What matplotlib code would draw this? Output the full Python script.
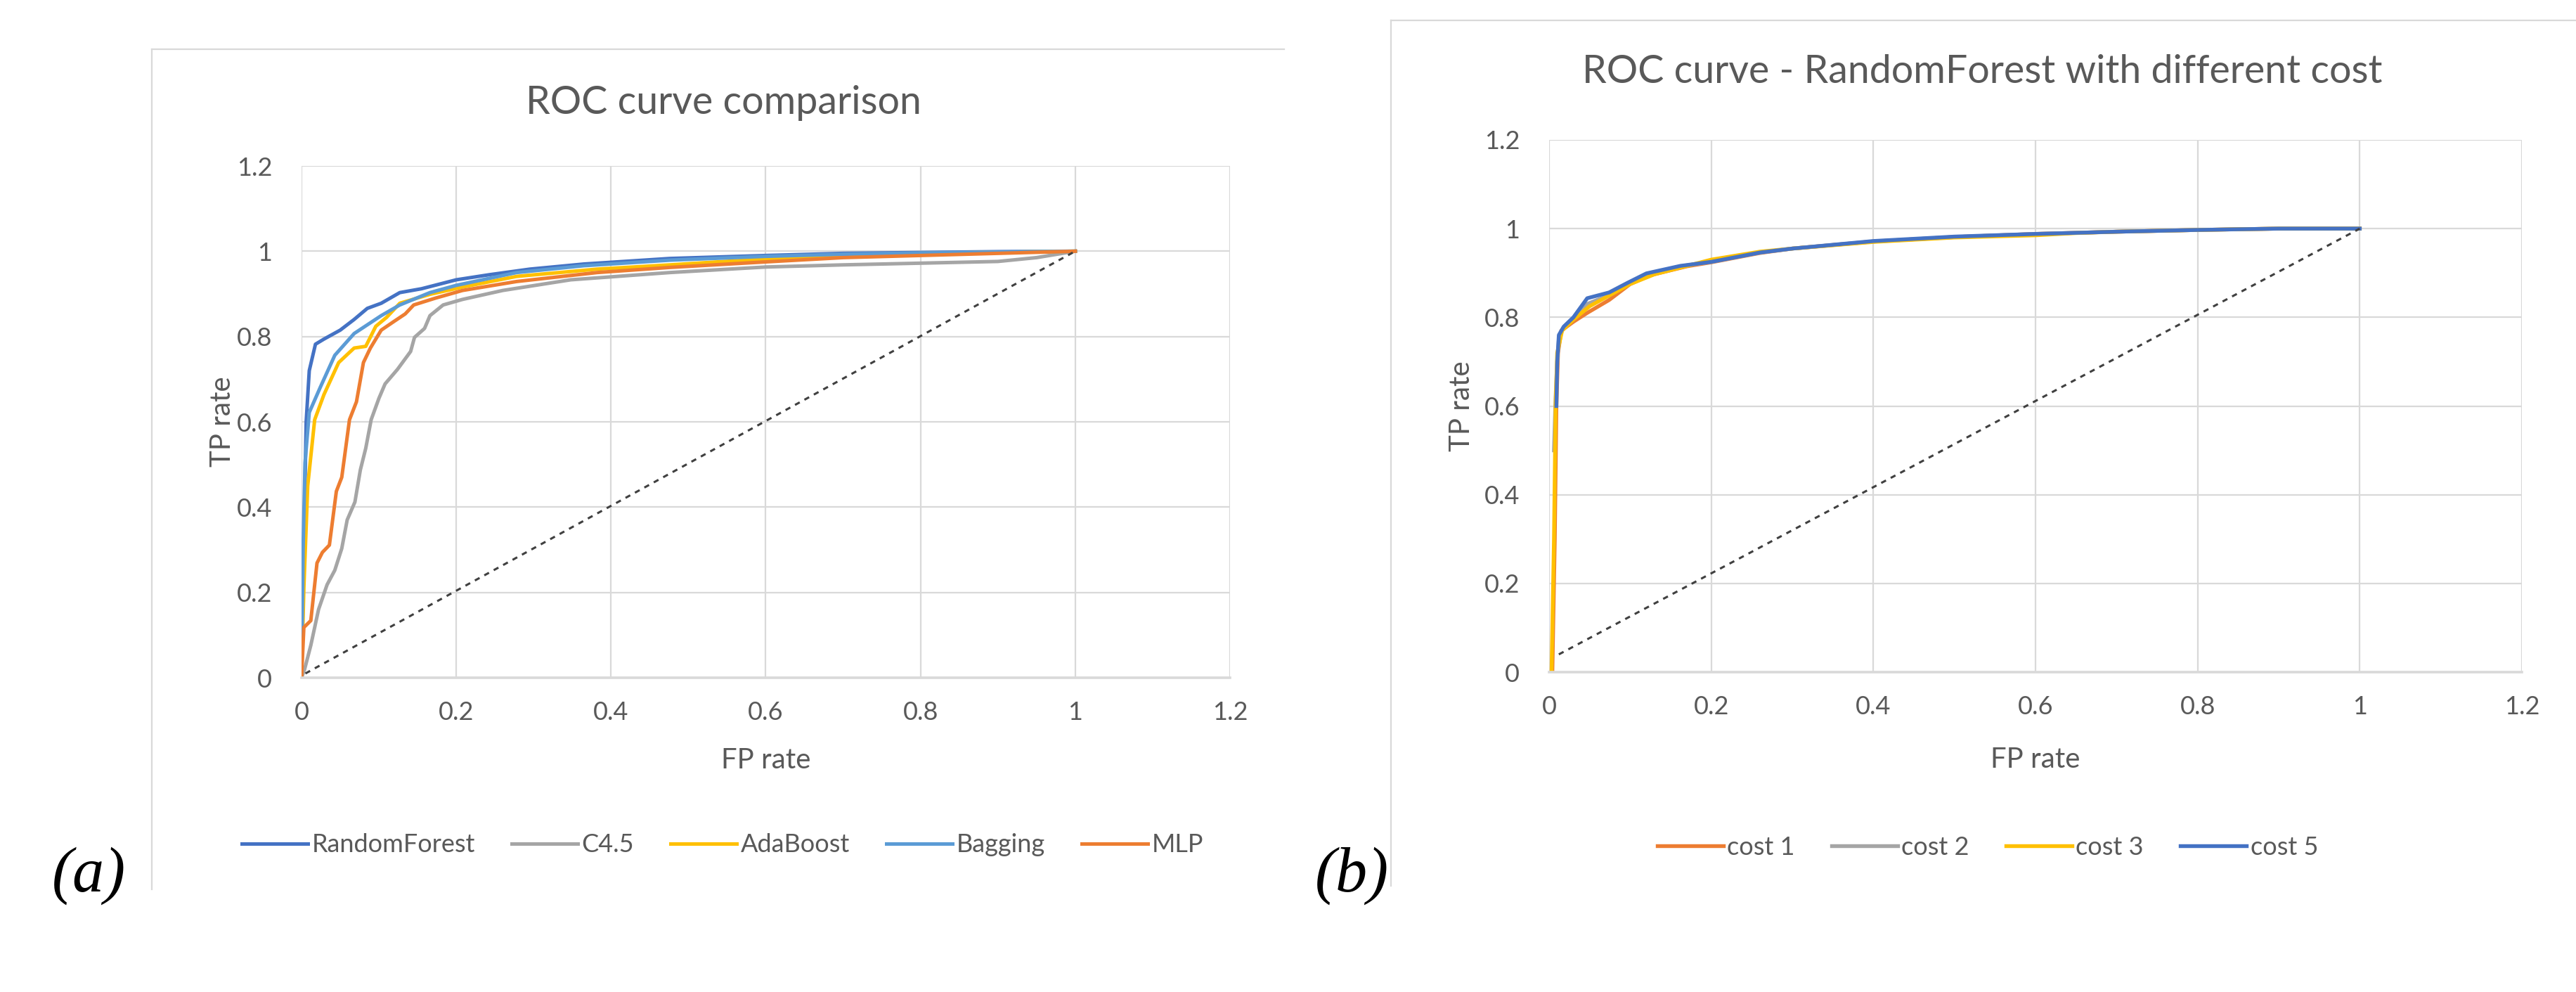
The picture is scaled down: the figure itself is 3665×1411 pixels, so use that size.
import matplotlib
matplotlib.use('Agg')
import matplotlib.pyplot as plt
from matplotlib.lines import Line2D

W, H = 3666, 1411

# ---- data ----
# (a) ROC curve comparison
rf_x = [0.0, 0.003, 0.006, 0.010, 0.018, 0.029, 0.050, 0.068, 0.085, 0.103, 0.127, 0.155, 0.200, 0.243, 0.295, 0.365, 0.476, 0.6, 0.7, 0.8, 0.9, 1.0]
rf_y = [0.0, 0.30, 0.60, 0.72, 0.782, 0.794, 0.815, 0.840, 0.866, 0.878, 0.903, 0.912, 0.933, 0.945, 0.958, 0.970, 0.983, 0.990, 0.995, 0.997, 0.999, 1.0]

c45_x = [0.0, 0.004, 0.012, 0.022, 0.033, 0.043, 0.052, 0.059, 0.069, 0.076, 0.083, 0.090, 0.100, 0.108, 0.124, 0.141, 0.146, 0.159, 0.166, 0.183, 0.208, 0.260, 0.348, 0.476, 0.6, 0.7, 0.8, 0.9, 0.95, 1.0]
c45_y = [0.0, 0.02, 0.076, 0.160, 0.218, 0.252, 0.303, 0.370, 0.412, 0.487, 0.538, 0.605, 0.655, 0.689, 0.723, 0.765, 0.798, 0.819, 0.849, 0.874, 0.887, 0.908, 0.933, 0.950, 0.963, 0.968, 0.972, 0.976, 0.985, 1.0]

ada_x = [0.0, 0.003, 0.008, 0.017, 0.029, 0.048, 0.068, 0.083, 0.096, 0.110, 0.127, 0.166, 0.208, 0.278, 0.382, 0.476, 0.6, 0.7, 0.8, 1.0]
ada_y = [0.0, 0.21, 0.45, 0.605, 0.664, 0.739, 0.773, 0.777, 0.824, 0.845, 0.878, 0.899, 0.916, 0.941, 0.958, 0.968, 0.982, 0.990, 0.995, 1.0]

bag_x = [0.0, 0.002, 0.0045, 0.010, 0.024, 0.043, 0.068, 0.103, 0.127, 0.166, 0.200, 0.278, 0.365, 0.476, 0.6, 0.7, 0.8, 1.0]
bag_y = [0.0, 0.30, 0.504, 0.622, 0.680, 0.756, 0.807, 0.849, 0.874, 0.903, 0.920, 0.950, 0.966, 0.979, 0.988, 0.993, 0.996, 1.0]

mlp_x = [0.0, 0.003, 0.012, 0.020, 0.027, 0.036, 0.045, 0.052, 0.062, 0.071, 0.080, 0.089, 0.103, 0.120, 0.134, 0.145, 0.173, 0.208, 0.278, 0.382, 0.476, 0.6, 0.7, 0.8, 0.9, 1.0]
mlp_y = [0.0, 0.118, 0.134, 0.269, 0.294, 0.311, 0.437, 0.470, 0.605, 0.647, 0.739, 0.773, 0.815, 0.836, 0.853, 0.874, 0.890, 0.908, 0.929, 0.950, 0.962, 0.975, 0.985, 0.990, 0.995, 1.0]

# (b) RandomForest with different cost
c1_x = [0.004, 0.007, 0.009, 0.011, 0.015, 0.030, 0.047, 0.074, 0.100, 0.125, 0.170, 0.200, 0.260, 0.300, 0.400, 0.500, 0.600, 0.700, 0.800, 0.900, 1.0]
c1_y = [0.0, 0.30, 0.60, 0.72, 0.77, 0.790, 0.810, 0.839, 0.875, 0.895, 0.915, 0.924, 0.945, 0.955, 0.971, 0.981, 0.988, 0.993, 0.997, 1.0, 1.0]

c2_x = [0.006, 0.008, 0.010, 0.012, 0.017, 0.030, 0.047, 0.074, 0.097, 0.120, 0.162, 0.200, 0.260, 0.300, 0.400, 0.500, 0.600, 0.700, 0.800, 0.900, 1.0]
c2_y = [0.50, 0.62, 0.70, 0.75, 0.775, 0.795, 0.830, 0.850, 0.876, 0.897, 0.915, 0.925, 0.946, 0.955, 0.971, 0.981, 0.988, 0.993, 0.997, 1.0, 1.0]

c3_x = [0.003, 0.006, 0.008, 0.010, 0.016, 0.030, 0.050, 0.080, 0.100, 0.130, 0.200, 0.260, 0.300, 0.400, 0.500, 0.600, 0.650, 0.700, 0.800, 0.900, 1.0]
c3_y = [0.0, 0.30, 0.60, 0.72, 0.770, 0.795, 0.825, 0.855, 0.875, 0.897, 0.930, 0.948, 0.955, 0.970, 0.980, 0.985, 0.990, 0.993, 0.997, 1.0, 1.0]

c5_x = [0.009, 0.010, 0.012, 0.018, 0.030, 0.047, 0.074, 0.097, 0.120, 0.162, 0.200, 0.260, 0.300, 0.400, 0.500, 0.600, 0.700, 0.800, 0.900, 1.0]
c5_y = [0.60, 0.70, 0.76, 0.779, 0.800, 0.843, 0.856, 0.878, 0.899, 0.916, 0.925, 0.946, 0.955, 0.972, 0.982, 0.988, 0.993, 0.997, 1.0, 1.0]

diag_a_x = [0.005, 1.0]
diag_a_y = [0.01, 1.0]
diag_b_x = [0.012, 1.0]
diag_b_y = [0.04, 1.0]

ticks = [0, 0.2, 0.4, 0.6, 0.8, 1, 1.2]
tick_labels = ['0', '0.2', '0.4', '0.6', '0.8', '1', '1.2']

BLUE = '#4472C4'
ORANGE = '#ED7D31'
GREY = '#A5A5A5'
YELLOW = '#FFC000'
LBLUE = '#5B9BD5'
TXT = '#595959'
GRID = '#D9D9D9'

plt.rcParams['font.family'] = ['Lato', 'DejaVu Sans']

fig = plt.figure(figsize=(W / 100, H / 100), dpi=100)


def px_axes(x0, y0, x1, y1):
    return fig.add_axes([x0 / W, 1 - y1 / H, (x1 - x0) / W, (y1 - y0) / H])


def style(ax, xlab_off, ylab_off):
    ax.set_xlim(0, 1.2)
    ax.set_ylim(0, 1.2)
    ax.set_xticks(ticks)
    ax.set_xticklabels(tick_labels)
    ax.set_yticks(ticks)
    ax.set_yticklabels(tick_labels)
    ax.tick_params(length=0, labelsize=26, colors=TXT)
    ax.tick_params(axis='x', pad=24)
    ax.tick_params(axis='y', pad=30)
    ax.grid(True, color=GRID, lw=1.6)
    ax.set_axisbelow(True)
    for s in ['top', 'right', 'left']:
        ax.spines[s].set_visible(False)
    ax.spines['bottom'].set_color(GRID)
    ax.spines['bottom'].set_linewidth(2.6)
    ax.set_xlabel('FP rate', fontsize=29, color=TXT, va='center')
    ax.set_ylabel('TP rate', fontsize=29, color=TXT, va='center')
    ax.xaxis.set_label_coords(0.5, xlab_off)
    ax.yaxis.set_label_coords(ylab_off, 0.5)


# chart area borders (Excel frames, only top/left visible)
fig.add_artist(Line2D([216 / W, 1827 / W], [1 - 70 / H, 1 - 70 / H], color=GRID, lw=1.6))
fig.add_artist(Line2D([216 / W, 216 / W], [1 - 70 / H, 1 - 1265 / H], color=GRID, lw=1.6))
fig.add_artist(Line2D([1979 / W, 1.0], [1 - 29 / H, 1 - 29 / H], color=GRID, lw=1.6))
fig.add_artist(Line2D([1979 / W, 1979 / W], [1 - 29 / H, 1 - 1260 / H], color=GRID, lw=1.6))

# ---- panel (a) ----
ax1 = px_axes(429, 236, 1750, 964)
style(ax1, -0.162, -0.085)
lw = 3.6
ax1.plot(rf_x, rf_y, color=BLUE, lw=lw, label='RandomForest')
ax1.plot(c45_x, c45_y, color=GREY, lw=lw, label='C4.5')
ax1.plot(ada_x, ada_y, color=YELLOW, lw=lw, label='AdaBoost')
ax1.plot(bag_x, bag_y, color=LBLUE, lw=lw, label='Bagging')
ax1.plot(mlp_x, mlp_y, color=ORANGE, lw=lw, label='MLP')
ax1.plot(diag_a_x, diag_a_y, color='#404040', lw=2.2, ls=(0, (2.5, 2.5)))
h1, l1 = ax1.get_legend_handles_labels()
fig.legend(h1, l1, loc='center', bbox_to_anchor=(1028 / W, 1 - 1202 / H), ncol=5,
           frameon=False, fontsize=26, labelcolor=TXT, handlelength=2.6,
           handletextpad=0.15, columnspacing=1.45)
fig.text(1029 / W, 1 - 146 / H, 'ROC curve comparison', ha='center', va='center',
         fontsize=40, color=TXT)

# ---- panel (b) ----
ax2 = px_axes(2204, 199, 3588, 956)
style(ax2, -0.164, -0.090)
lw2 = 3.9
ax2.plot(c1_x, c1_y, color=ORANGE, lw=lw2, label='cost 1')
ax2.plot(c2_x, c2_y, color=GREY, lw=lw2, label='cost 2')
ax2.plot(c3_x, c3_y, color=YELLOW, lw=lw2, label='cost 3')
ax2.plot(c5_x, c5_y, color=BLUE, lw=lw2, label='cost 5')
ax2.plot(diag_b_x, diag_b_y, color='#404040', lw=2.2, ls=(0, (2.5, 2.5)))
h2, l2 = ax2.get_legend_handles_labels()
fig.legend(h2, l2, loc='center', bbox_to_anchor=(2828 / W, 1 - 1205 / H), ncol=4,
           frameon=False, fontsize=26, labelcolor=TXT, handlelength=2.6,
           handletextpad=0.15, columnspacing=1.45)
fig.text(2820 / W, 1 - 103 / H, 'ROC curve - RandomForest with different cost',
         ha='center', va='center', fontsize=40, color=TXT)

# panel letters
fig.text(126 / W, 1 - 1246 / H, '(a)', ha='center', va='center', fontsize=65,
         family='Liberation Serif', style='italic', color='black')
fig.text(1923 / W, 1 - 1246 / H, '(b)', ha='center', va='center', fontsize=65,
         family='Liberation Serif', style='italic', color='black')

fig.savefig('out.png', dpi=100, facecolor='white')
